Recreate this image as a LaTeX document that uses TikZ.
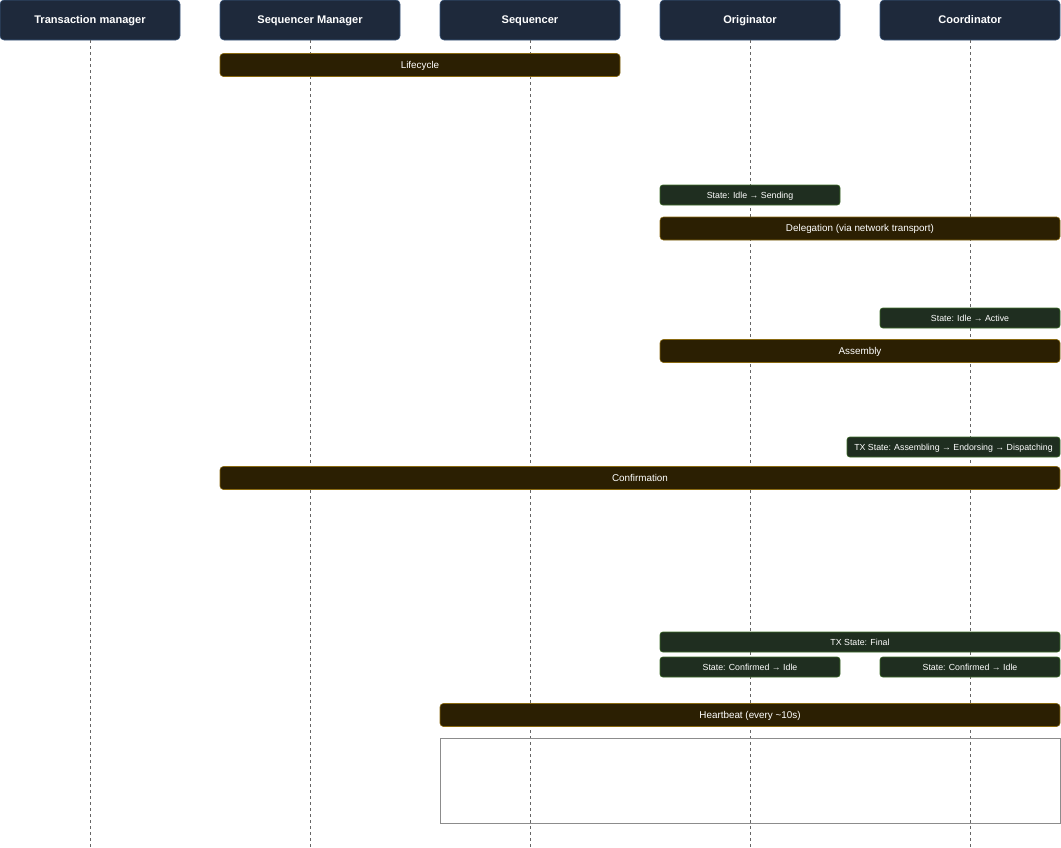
\documentclass[tikz,border=0pt]{standalone}
\usepackage{fontspec}
\setmainfont{Liberation Sans}
\setsansfont{Liberation Sans}
\usepackage{tikz}
\usetikzlibrary{positioning}
\definecolor{hdfill}{HTML}{1E293B}
\definecolor{hdline}{HTML}{3D5A80}
\definecolor{barfill}{HTML}{2B1F02}
\definecolor{barline}{HTML}{8A6A12}
\definecolor{stfill}{HTML}{1F2E20}
\definecolor{stline}{HTML}{3F6E2A}
\definecolor{life}{HTML}{666666}
\definecolor{frame}{HTML}{8C8C8C}

\begin{document}
\begin{tikzpicture}[x=0.75pt,y=-0.75pt,font=\sffamily,
    head/.style={fill=hdfill,draw=hdline,rounded corners=3pt,inner sep=0pt,
      minimum width=135pt,minimum height=30pt,text=white,text height=0.72em,text depth=0.2em,
      font=\sffamily\bfseries\fontsize{8.3}{10}\selectfont},
    phase/.style={fill=barfill,draw=barline,rounded corners=2.5pt,inner sep=0pt,
      minimum height=17.25pt,text=white,text height=0.72em,text depth=0.2em,
      font=\sffamily\fontsize{7.4}{9}\selectfont},
    statebox/.style={fill=stfill,draw=stline,rounded corners=2pt,inner sep=0pt,
      minimum height=15pt,text=white,text height=0.72em,text depth=0.2em,
      font=\sffamily\fontsize{6.6}{8}\selectfont},
    lifeline/.style={draw=life,line width=0.6pt,dash pattern=on 2.25pt off 2.25pt}]
  \useasboundingbox (0,0) rectangle (1061,847);
  \node[head] (tm) at (90,20) {Transaction manager};
  \node[head] (sm) at (310,20) {Sequencer Manager};
  \node[head] (sq) at (530,20) {Sequencer};
  \node[head] (og) at (750,20) {Originator};
  \node[head] (co) at (970,20) {Coordinator};
  \coordinate (tmend) at (90,847);
  \coordinate (smend) at (310,847);
  \coordinate (sqend) at (530,847);
  \coordinate (ogend) at (750,847);
  \coordinate (coend) at (970,847);
  \draw[lifeline] (tm) -- (tmend);
  \draw[lifeline] (sm) -- (smend);
  \draw[lifeline] (sq) -- (sqend);
  \draw[lifeline] (og) -- (ogend);
  \draw[lifeline] (co) -- (coend);
  \node[phase,minimum width=300pt] (lifecycle) at (420,65) {Lifecycle};
  \node[statebox,minimum width=135pt] (idlesend) at (750,195) {State: Idle → Sending};
  \node[phase,minimum width=300pt] (delegation) at (860,228.5) {Delegation (via network transport)};
  \node[statebox,minimum width=135pt] (idleact) at (970,318) {State: Idle → Active};
  \node[phase,minimum width=300pt] (assembly) at (860,351) {Assembly};
  \node[statebox,minimum width=159.75pt] (txasm) at (953.5,447) {TX State: Assembling → Endorsing → Dispatching};
  \node[phase,minimum width=630pt] (confirm) at (640,478) {Confirmation};
  \node[statebox,minimum width=300pt] (txfinal) at (860,642) {TX State: Final};
  \node[statebox,minimum width=135pt] (ogidle) at (750,667) {State: Confirmed → Idle};
  \node[statebox,minimum width=135pt] (coidle) at (970,667) {State: Confirmed → Idle};
  \node[phase,minimum width=465pt] (heartbeat) at (750,715) {Heartbeat (every \textasciitilde10s)};
  \draw[draw=frame,line width=0.75pt] (440,738.5) rectangle (1060,823);
\end{tikzpicture}
\end{document}
